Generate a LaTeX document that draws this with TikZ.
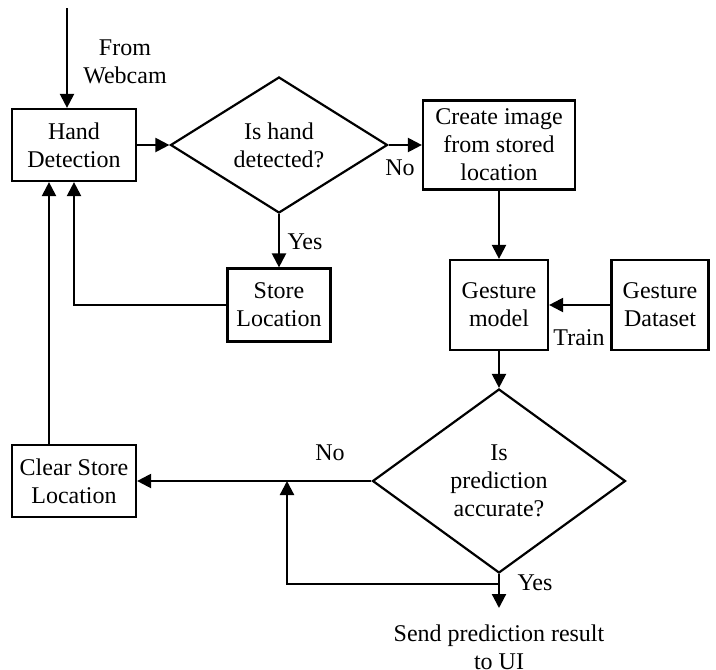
\documentclass[tikz,border=0pt]{standalone}
\usepackage{fontspec}
\setmainfont{Liberation Serif}
\usetikzlibrary{shapes.geometric,arrows.meta}
\begin{document}
\begin{tikzpicture}[x=1pt,y=-1pt,
  font=\fontsize{24}{28}\selectfont,
  line width=2.2pt,
  box/.style={draw,align=center,inner sep=0pt},
  decision/.style={draw,diamond,align=center,inner sep=0pt},
  arr/.style={-{Triangle[length=14pt,width=14pt]}}]
\useasboundingbox (0,0) rectangle (716,670);
\node[box,minimum width=124pt,minimum height=72pt] (hand) at (74,145) {Hand\\Detection};
\node[decision,aspect=1.6,minimum width=217pt,minimum height=136pt] (isdet) at (279,145) {Is hand\\detected?};
\node[box,minimum width=152pt,minimum height=89pt] (create) at (499,145) {Create image\\from stored\\location};
\node[box,minimum width=103pt,minimum height=73pt] (store) at (279,305) {Store\\Location};
\node[box,minimum width=98pt,minimum height=90pt] (gmodel) at (499,305) {Gesture\\model};
\node[box,minimum width=97pt,minimum height=90pt] (gdata) at (660,305) {Gesture\\Dataset};
\node[decision,aspect=1.37,minimum width=253pt,minimum height=184pt] (isacc) at (499,481) {Is\\prediction\\accurate?};
\node[box,minimum width=124pt,minimum height=72pt] (clear) at (74,481) {Clear Store\\Location};
\node[align=center,inner sep=0pt,inner ysep=16pt,anchor=north] (send) at (499,608) {Send prediction result\\to UI};
% labels
\node[align=center,inner sep=0pt] (webcamlbl) at (125,62) {From\\Webcam};
\node[inner sep=0pt] (nolbla) at (400,168) {No};
\node[inner sep=0pt] (yeslbla) at (305,242) {Yes};
\node[inner sep=0pt] (trainlbl) at (579,338) {Train};
\node[inner sep=0pt] (nolblb) at (330,453) {No};
\node[inner sep=0pt] (yeslblb) at (535,583) {Yes};
% connectors
\coordinate (webcam) at (67,8);
\coordinate (merge) at (287,481);
\draw[arr] (webcam) -- (webcam |- hand.north);
\draw[arr] (hand) -- (isdet);
\draw[arr] (isdet) -- (create);
\draw[arr] (isdet) -- (store);
\draw[arr] (store) -| (hand);
\draw[arr] (create) -- (gmodel);
\draw[arr] (gdata) -- (gmodel);
\draw[arr] (gmodel) -- (isacc);
\draw[arr] (isacc) -- (clear);
\draw[arr] ([xshift=-25pt]clear.north) -- ([xshift=-25pt]clear.north |- hand.south);
\draw[arr] (isacc.south) -- ++(0,10) -| (merge);
\draw[arr] (isacc.south) -- (send.north);
\end{tikzpicture}
\end{document}
